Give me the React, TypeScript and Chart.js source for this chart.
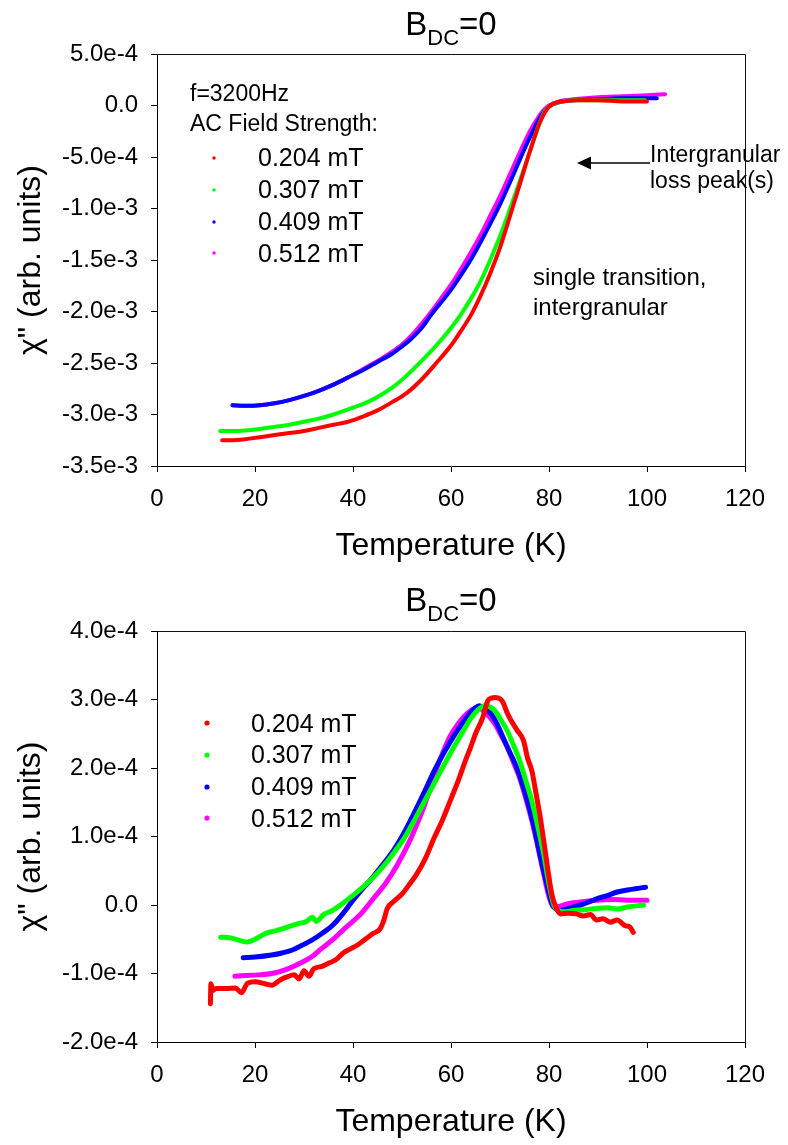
import React, { useEffect, useRef } from 'react';
import { Chart, registerables } from 'chart.js';

Chart.register(...registerables);

const FONT = '"Liberation Sans", Arial, Helvetica, sans-serif';

// ---------- labels / styling lists ----------
const seriesLabels = ['0.204 mT', '0.307 mT', '0.409 mT', '0.512 mT'];
const seriesColors = ['#ff0000', '#00ff00', '#0000ff', '#ff00ff'];
const xAxisTitle = 'Temperature (K)';
const yAxisTitle = 'χ" (arb. units)';

// ---------- TOP chart: chi'' vs T ----------
const topRedT = [13.3, 15, 18, 21, 24, 27, 30, 33, 36, 39, 42, 45, 48, 51, 54, 57, 60, 62, 64, 66, 68, 70, 72, 74, 76, 78, 79, 80, 81, 83, 86, 90, 95, 100];
const topRedChi = [-3.25e-3, -3.25e-3, -3.24e-3, -3.22e-3, -3.2e-3, -3.18e-3, -3.16e-3, -3.13e-3, -3.1e-3, -3.07e-3, -3.02e-3, -2.96e-3, -2.88e-3, -2.79e-3, -2.66e-3, -2.5e-3, -2.33e-3, -2.19e-3, -2.04e-3, -1.85e-3, -1.63e-3, -1.38e-3, -1.08e-3, -0.77e-3, -0.46e-3, -0.18e-3, -0.08e-3, -0.01e-3, 0.02e-3, 0.04e-3, 0.05e-3, 0.05e-3, 0.04e-3, 0.04e-3];

const topGreenT = [12.9, 15, 18, 21, 24, 27, 30, 33, 36, 39, 42, 45, 48, 51, 54, 57, 60, 62, 64, 66, 68, 70, 72, 74, 76, 78, 79, 80, 82, 85, 90, 95, 99.6];
const topGreenChi = [-3.16e-3, -3.16e-3, -3.155e-3, -3.14e-3, -3.12e-3, -3.1e-3, -3.07e-3, -3.04e-3, -3.0e-3, -2.95e-3, -2.9e-3, -2.83e-3, -2.74e-3, -2.62e-3, -2.48e-3, -2.33e-3, -2.16e-3, -2.03e-3, -1.88e-3, -1.71e-3, -1.5e-3, -1.27e-3, -1.01e-3, -0.74e-3, -0.46e-3, -0.18e-3, -0.07e-3, -0.01e-3, 0.03e-3, 0.05e-3, 0.05e-3, 0.05e-3, 0.05e-3];

const topBlueT = [15.4, 18, 21, 24, 27, 30, 33, 36, 39, 42, 45, 48, 50, 52, 54, 56, 58, 60, 62, 64, 66, 68, 70, 72, 74, 76, 78, 79, 80, 82, 85, 90, 95, 102];
const topBlueChi = [-2.91e-3, -2.915e-3, -2.91e-3, -2.89e-3, -2.86e-3, -2.82e-3, -2.77e-3, -2.71e-3, -2.64e-3, -2.57e-3, -2.49e-3, -2.41e-3, -2.34e-3, -2.26e-3, -2.16e-3, -2.03e-3, -1.91e-3, -1.79e-3, -1.65e-3, -1.5e-3, -1.33e-3, -1.15e-3, -0.96e-3, -0.75e-3, -0.53e-3, -0.32e-3, -0.13e-3, -0.06e-3, -0.01e-3, 0.03e-3, 0.05e-3, 0.06e-3, 0.07e-3, 0.07e-3];

const topMagentaT = [15.4, 18, 21, 24, 27, 30, 33, 36, 39, 42, 45, 48, 50, 52, 54, 56, 58, 60, 62, 64, 66, 68, 70, 72, 74, 76, 78, 79, 80, 82, 85, 90, 95, 100, 103.7];
const topMagentaChi = [-2.91e-3, -2.915e-3, -2.91e-3, -2.89e-3, -2.86e-3, -2.82e-3, -2.77e-3, -2.71e-3, -2.64e-3, -2.56e-3, -2.48e-3, -2.39e-3, -2.32e-3, -2.23e-3, -2.12e-3, -2.0e-3, -1.87e-3, -1.74e-3, -1.59e-3, -1.43e-3, -1.26e-3, -1.07e-3, -0.88e-3, -0.67e-3, -0.46e-3, -0.26e-3, -0.1e-3, -0.04e-3, 0.0, 0.04e-3, 0.06e-3, 0.08e-3, 0.09e-3, 0.1e-3, 0.11e-3];

// ---------- BOTTOM chart: chi'' vs T ----------
const botRedT = [10.9, 11.0, 11.4, 12, 14, 16, 17.2, 18.5, 20, 22, 23.5, 25, 26.5, 28, 29, 30, 31, 32, 33.5, 35, 36.5, 38, 39.5, 41, 42.5, 44, 45.5, 46.3, 47, 48.3, 50, 51.6, 53, 54.9, 56.5, 58.2, 60, 61.5, 63, 64, 65, 66.5, 67.5, 68.3, 69, 70, 70.6, 71.5, 72.3, 73.5, 74.8, 75.6, 76.5, 77.3, 78.1, 79, 79.8, 80.6, 81.4, 82.3, 84, 85.6, 87, 88.5, 89.7, 91, 92.5, 93.9, 95.5, 96.5, 97.2];
const botRedChi = [-1.44e-4, -1.15e-4, -1.25e-4, -1.22e-4, -1.22e-4, -1.21e-4, -1.28e-4, -1.14e-4, -1.12e-4, -1.15e-4, -1.17e-4, -1.1e-4, -1.05e-4, -1.02e-4, -1.08e-4, -0.96e-4, -1.04e-4, -0.93e-4, -0.9e-4, -0.85e-4, -0.8e-4, -0.7e-4, -0.64e-4, -0.58e-4, -0.5e-4, -0.42e-4, -0.35e-4, -0.22e-4, -0.05e-4, 0.05e-4, 0.16e-4, 0.31e-4, 0.45e-4, 0.7e-4, 0.97e-4, 1.23e-4, 1.55e-4, 1.82e-4, 2.12e-4, 2.3e-4, 2.5e-4, 2.74e-4, 2.98e-4, 3.02e-4, 3.03e-4, 3.01e-4, 2.96e-4, 2.8e-4, 2.69e-4, 2.55e-4, 2.4e-4, 2.15e-4, 1.96e-4, 1.65e-4, 1.33e-4, 0.9e-4, 0.5e-4, 0.15e-4, -0.03e-4, -0.13e-4, -0.12e-4, -0.13e-4, -0.16e-4, -0.14e-4, -0.22e-4, -0.2e-4, -0.25e-4, -0.22e-4, -0.3e-4, -0.32e-4, -0.4e-4];

const botGreenT = [13, 15, 17, 18.4, 20, 22, 23.4, 25, 27.5, 29, 30.5, 31.7, 32.5, 34, 35.8, 38, 40, 42, 44.1, 46, 48.3, 50.5, 52.4, 54.5, 56.6, 58.7, 60.7, 62.5, 64, 65.5, 66.9, 68, 69, 70.2, 71.5, 72.7, 74, 75.2, 76.5, 77.7, 78.9, 80, 81, 82, 83.1, 85, 87, 89.7, 92, 94, 96, 99.3];
const botGreenChi = [-0.47e-4, -0.48e-4, -0.52e-4, -0.54e-4, -0.5e-4, -0.42e-4, -0.39e-4, -0.36e-4, -0.3e-4, -0.27e-4, -0.24e-4, -0.18e-4, -0.24e-4, -0.14e-4, -0.08e-4, 0.03e-4, 0.14e-4, 0.26e-4, 0.4e-4, 0.55e-4, 0.76e-4, 0.98e-4, 1.22e-4, 1.5e-4, 1.78e-4, 2.06e-4, 2.32e-4, 2.54e-4, 2.72e-4, 2.85e-4, 2.91e-4, 2.89e-4, 2.83e-4, 2.7e-4, 2.54e-4, 2.34e-4, 2.11e-4, 1.83e-4, 1.52e-4, 1.15e-4, 0.75e-4, 0.3e-4, 0.0, -0.08e-4, -0.1e-4, -0.08e-4, -0.07e-4, -0.05e-4, -0.04e-4, -0.06e-4, -0.03e-4, 0.0];

const botBlueT = [17.6, 20, 23.4, 25.5, 27.5, 29.5, 31.7, 33.8, 35.8, 38, 40, 42, 44.1, 46.2, 48.3, 50.4, 52.4, 54.5, 56.6, 58.7, 60.7, 62.3, 64, 65, 65.8, 66.9, 68.2, 69.4, 70.6, 71.8, 73.1, 74.4, 75.6, 76.9, 78.1, 79.4, 80.6, 81.4, 82.3, 84, 86.4, 88, 89.7, 92, 93.9, 96, 98, 99.7];
const botBlueChi = [-0.77e-4, -0.76e-4, -0.73e-4, -0.7e-4, -0.66e-4, -0.59e-4, -0.51e-4, -0.41e-4, -0.3e-4, -0.12e-4, 0.07e-4, 0.24e-4, 0.41e-4, 0.6e-4, 0.8e-4, 1.05e-4, 1.33e-4, 1.64e-4, 1.96e-4, 2.24e-4, 2.48e-4, 2.65e-4, 2.81e-4, 2.88e-4, 2.91e-4, 2.87e-4, 2.79e-4, 2.64e-4, 2.45e-4, 2.26e-4, 2.06e-4, 1.8e-4, 1.52e-4, 1.15e-4, 0.75e-4, 0.35e-4, 0.02e-4, -0.06e-4, -0.08e-4, -0.05e-4, 0.0, 0.04e-4, 0.09e-4, 0.14e-4, 0.19e-4, 0.22e-4, 0.24e-4, 0.26e-4];

const botMagentaT = [15.9, 18, 20.5, 23.4, 26, 29.2, 31.5, 33.5, 35.8, 38.5, 41.6, 44, 46.6, 49, 51.6, 53.3, 54.9, 56.5, 58.2, 59.8, 61.5, 63.2, 64.8, 65.6, 66.5, 67.8, 69, 70.2, 71.5, 72.7, 74, 75.2, 76.5, 77.7, 78.9, 80, 81, 82, 83.9, 86, 89.7, 93, 96, 100];
const botMagentaChi = [-1.04e-4, -1.03e-4, -1.02e-4, -1.0e-4, -0.95e-4, -0.85e-4, -0.76e-4, -0.64e-4, -0.51e-4, -0.33e-4, -0.13e-4, 0.08e-4, 0.31e-4, 0.58e-4, 0.94e-4, 1.22e-4, 1.52e-4, 1.88e-4, 2.2e-4, 2.46e-4, 2.65e-4, 2.79e-4, 2.87e-4, 2.88e-4, 2.84e-4, 2.75e-4, 2.64e-4, 2.48e-4, 2.3e-4, 2.09e-4, 1.86e-4, 1.57e-4, 1.23e-4, 0.86e-4, 0.46e-4, 0.12e-4, -0.03e-4, -0.02e-4, 0.02e-4, 0.04e-4, 0.07e-4, 0.08e-4, 0.07e-4, 0.07e-4];

// ---------- axis ranges ----------
const xMin = 0, xMax = 120, xStep = 20;
const topYMin = -3.5e-3, topYMax = 5e-4, topYStep = 5e-4;
const botYMin = -2e-4, botYMax = 4e-4, botYStep = 1e-4;

type TextItem = { text: string; x: number; y: number; size: number };
type DotItem = { x: number; y: number; r: number; color: string };

type PanelCfg = {
  height: number;
  plotTop: number;
  plotBottom: number;
  titleBaseline: number;
  xTitlePad: number;
  lineWidth: number;
  series: { t: number[]; chi: number[] }[];
  yMin: number; yMax: number; yStep: number;
  texts: TextItem[];
  dots: DotItem[];
  arrow?: { x1: number; x2: number; y: number };
};

const PLOT_LEFT = 157;
const PLOT_RIGHT = 745;
const W = 788;

function fmtTick(v: number): string {
  if (Math.abs(v) < 1e-12) return '0.0';
  return Number(v).toExponential(1);
}

function makeConfig(cfg: PanelCfg): any {
  const datasets = cfg.series.map((s, i) => ({
    label: seriesLabels[i],
    data: s.t.map((t, k) => ({ x: t, y: s.chi[k] })),
    borderColor: seriesColors[i],
    backgroundColor: seriesColors[i],
    borderWidth: cfg.lineWidth,
    pointRadius: 0,
    showLine: true,
    cubicInterpolationMode: 'monotone',
    borderCapStyle: 'round',
    borderJoinStyle: 'round',
  }));

  const decorPlugin = {
    id: 'decor',
    afterDraw(chart: any) {
      const ctx = chart.ctx as CanvasRenderingContext2D;
      const a = chart.chartArea;
      ctx.save();
      // frame (top + right)
      ctx.strokeStyle = '#111';
      ctx.lineWidth = 1;
      ctx.beginPath();
      ctx.moveTo(a.left, a.top + 0.5);
      ctx.lineTo(a.right + 0.5, a.top + 0.5);
      ctx.lineTo(a.right + 0.5, a.bottom);
      ctx.stroke();

      // title B_DC=0
      const cx = (a.left + a.right) / 2;
      const big = `33px ${FONT}`;
      const small = `22px ${FONT}`;
      ctx.fillStyle = '#000';
      ctx.textBaseline = 'alphabetic';
      ctx.textAlign = 'left';
      ctx.font = big;
      const wB = ctx.measureText('B').width;
      const wEq = ctx.measureText('=0').width;
      ctx.font = small;
      const wDC = ctx.measureText('DC').width;
      const x0 = cx - (wB + wDC + wEq) / 2;
      ctx.font = big;
      ctx.fillText('B', x0, cfg.titleBaseline);
      ctx.font = small;
      ctx.fillText('DC', x0 + wB, cfg.titleBaseline + 10);
      ctx.font = big;
      ctx.fillText('=0', x0 + wB + wDC, cfg.titleBaseline);

      // annotation texts
      for (const t of cfg.texts) {
        ctx.font = `${t.size}px ${FONT}`;
        ctx.fillText(t.text, t.x, t.y);
      }
      // legend dots
      for (const d of cfg.dots) {
        ctx.fillStyle = d.color;
        ctx.beginPath();
        ctx.arc(d.x, d.y, d.r, 0, Math.PI * 2);
        ctx.fill();
      }
      // arrow
      if (cfg.arrow) {
        const { x1, x2, y } = cfg.arrow;
        ctx.strokeStyle = '#000';
        ctx.fillStyle = '#000';
        ctx.lineWidth = 1.5;
        ctx.beginPath();
        ctx.moveTo(x1, y);
        ctx.lineTo(x2 + 12, y);
        ctx.stroke();
        ctx.beginPath();
        ctx.moveTo(x2, y);
        ctx.lineTo(x2 + 14, y - 6.5);
        ctx.lineTo(x2 + 14, y + 6.5);
        ctx.closePath();
        ctx.fill();
      }
      ctx.restore();
    },
  };

  return {
    type: 'scatter',
    data: { datasets },
    plugins: [decorPlugin],
    options: {
      animation: false,
      responsive: false,
      devicePixelRatio: 1,
      layout: { padding: { top: cfg.plotTop, right: W - PLOT_RIGHT, left: 0, bottom: 0 } },
      plugins: { legend: { display: false }, tooltip: { enabled: false }, title: { display: false } },
      scales: {
        x: {
          type: 'linear',
          min: xMin,
          max: xMax,
          afterFit(scale: any) {
            scale.height = cfg.height - cfg.plotBottom;
            scale.paddingLeft = 0;
            scale.paddingRight = 0;
          },
          ticks: {
            stepSize: xStep,
            color: '#000',
            padding: 13,
            maxRotation: 0,
            font: { family: FONT, size: 24 },
          },
          grid: { drawOnChartArea: false, drawTicks: true, tickLength: 6, color: '#000' },
          border: { display: true, color: '#000', width: 1 },
          title: {
            display: true,
            text: xAxisTitle,
            color: '#000',
            font: { family: FONT, size: 32 },
            padding: { top: 0, bottom: cfg.xTitlePad },
          },
        },
        y: {
          type: 'linear',
          min: cfg.yMin,
          max: cfg.yMax,
          afterFit(scale: any) {
            scale.width = PLOT_LEFT;
            scale.paddingTop = 0;
            scale.paddingBottom = 0;
          },
          ticks: {
            stepSize: cfg.yStep,
            color: '#000',
            padding: 13,
            font: { family: FONT, size: 24 },
            callback: (v: any) => fmtTick(Number(v)),
          },
          grid: { drawOnChartArea: false, drawTicks: true, tickLength: 6, color: '#000' },
          border: { display: true, color: '#000', width: 1 },
          title: {
            display: true,
            text: yAxisTitle,
            color: '#000',
            font: { family: FONT, size: 32 },
            padding: { top: 12, bottom: 0 },
          },
        },
      },
    },
  };
}

function Panel({ cfg }: { cfg: PanelCfg }) {
  const ref = useRef<HTMLCanvasElement | null>(null);
  useEffect(() => {
    if (!ref.current) return;
    const chart = new Chart(ref.current, makeConfig(cfg));
    return () => chart.destroy();
  }, [cfg]);
  return (
    <canvas
      ref={ref}
      width={W}
      height={cfg.height}
      style={{ display: 'block', width: W, height: cfg.height }}
    />
  );
}

const legendDotsTop: DotItem[] = [158, 190, 222, 253].map((y, i) => ({ x: 214, y, r: 1.7, color: seriesColors[i] }));
const legendTextsTop: TextItem[] = [166, 198, 230, 262].map((y, i) => ({ text: seriesLabels[i], x: 258, y, size: 25 }));

const topCfg: PanelCfg = {
  height: 572,
  plotTop: 54,
  plotBottom: 466,
  titleBaseline: 35,
  xTitlePad: 7,
  lineWidth: 4,
  series: [
    { t: topRedT, chi: topRedChi },
    { t: topGreenT, chi: topGreenChi },
    { t: topBlueT, chi: topBlueChi },
    { t: topMagentaT, chi: topMagentaChi },
  ],
  yMin: topYMin, yMax: topYMax, yStep: topYStep,
  texts: [
    { text: 'f=3200Hz', x: 190, y: 101, size: 23 },
    { text: 'AC Field Strength:', x: 190, y: 131, size: 23 },
    ...legendTextsTop,
    { text: 'Intergranular', x: 650, y: 162, size: 23 },
    { text: 'loss peak(s)', x: 650, y: 188, size: 23 },
    { text: 'single transition,', x: 533, y: 285, size: 24 },
    { text: 'intergranular', x: 533, y: 315, size: 24 },
  ],
  dots: legendDotsTop,
  arrow: { x1: 650, x2: 577, y: 163 },
};

const legendDotsBot: DotItem[] = [151, 183, 215, 246].map((y, i) => ({ x: 207, y, r: 2.6, color: seriesColors[i] }));
const legendTextsBot: TextItem[] = [160, 191, 223, 255].map((y, i) => ({ text: seriesLabels[i], x: 251, y, size: 25 }));

const botCfg: PanelCfg = {
  height: 573,
  plotTop: 59,
  plotBottom: 470,
  titleBaseline: 39,
  xTitlePad: 4,
  lineWidth: 5,
  series: [
    { t: botRedT, chi: botRedChi },
    { t: botGreenT, chi: botGreenChi },
    { t: botBlueT, chi: botBlueChi },
    { t: botMagentaT, chi: botMagentaChi },
  ],
  yMin: botYMin, yMax: botYMax, yStep: botYStep,
  texts: legendTextsBot,
  dots: legendDotsBot,
};

export default function App() {
  return (
    <div style={{ position: 'absolute', left: 0, top: 0, width: W, height: 1145, background: '#fff', overflow: 'hidden' }}>
      <div style={{ position: 'absolute', left: 0, top: 0 }}>
        <Panel cfg={topCfg} />
      </div>
      <div style={{ position: 'absolute', left: 0, top: 572 }}>
        <Panel cfg={botCfg} />
      </div>
    </div>
  );
}
